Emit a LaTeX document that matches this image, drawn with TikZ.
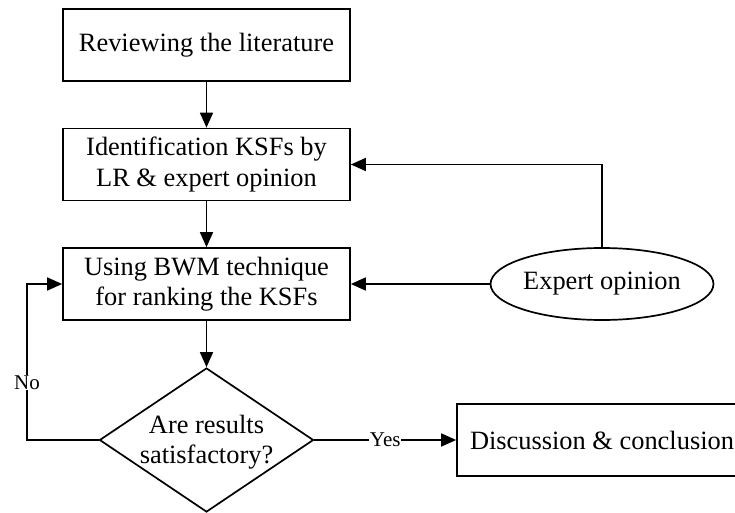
\documentclass[tikz,border=0pt]{standalone}
\usepackage{fontspec}
\setmainfont{Liberation Serif}
\usetikzlibrary{shapes.geometric,arrows.meta}
\begin{document}
\begin{tikzpicture}[x=1pt,y=-1pt,
  every node/.style={font=\fontsize{26.4}{30.5}\selectfont},
  conn/.style={line width=1.7pt},
  arr/.style={conn,-{Triangle[length=15pt,width=13pt]}},
  procbox/.style={draw,line width=1.7pt,minimum width=287pt,minimum height=72pt,inner sep=0pt,align=center},
  decision/.style={draw,diamond,line width=1.7pt,minimum width=214pt,minimum height=144pt,inner sep=0pt},
  oval/.style={draw,ellipse,line width=1.7pt,minimum width=216pt,minimum height=72pt,inner sep=0pt},
  lbl/.style={fill=white,inner sep=0.5pt,font=\fontsize{21}{23}\selectfont}
]
\useasboundingbox (0,0) rectangle (735,513);
\clip (0,0) rectangle (735,513);
\node[procbox] (lit) at (206.5,45) {Reviewing the literature};
\node[procbox] (ident) at (206.5,164.5) {Identification KSFs by\\LR \& expert opinion};
\node[procbox] (bwm) at (206.5,284) {Using BWM technique\\for ranking the KSFs};
\node[decision] (dec) at (206.5,440) {};
\node[align=center,inner sep=0pt] (dectext) at (206.5,442) {Are results\\satisfactory?};
\node[procbox,minimum width=290pt] (disc) at (602,440) {Discussion \& conclusion};
\node[oval] (exp) at (602,284) {Expert opinion};
\coordinate (noleft) at (27,0);
\draw[arr] (lit) -- (ident);
\draw[arr] (ident) -- (bwm);
\draw[arr] (bwm.south) -- (dec.north);
\draw[arr] (dec.east) -- node[lbl] (yes) {Yes} (disc.west);
\draw[arr] (dec.west) -- (dec.west -| noleft) -- node[lbl,pos=0.37] (no) {No} (bwm.west -| noleft) -- (bwm.west);
\draw[arr] (exp.north) |- (ident.east);
\draw[arr] (exp.west) -- (bwm.east);
\end{tikzpicture}
\end{document}
